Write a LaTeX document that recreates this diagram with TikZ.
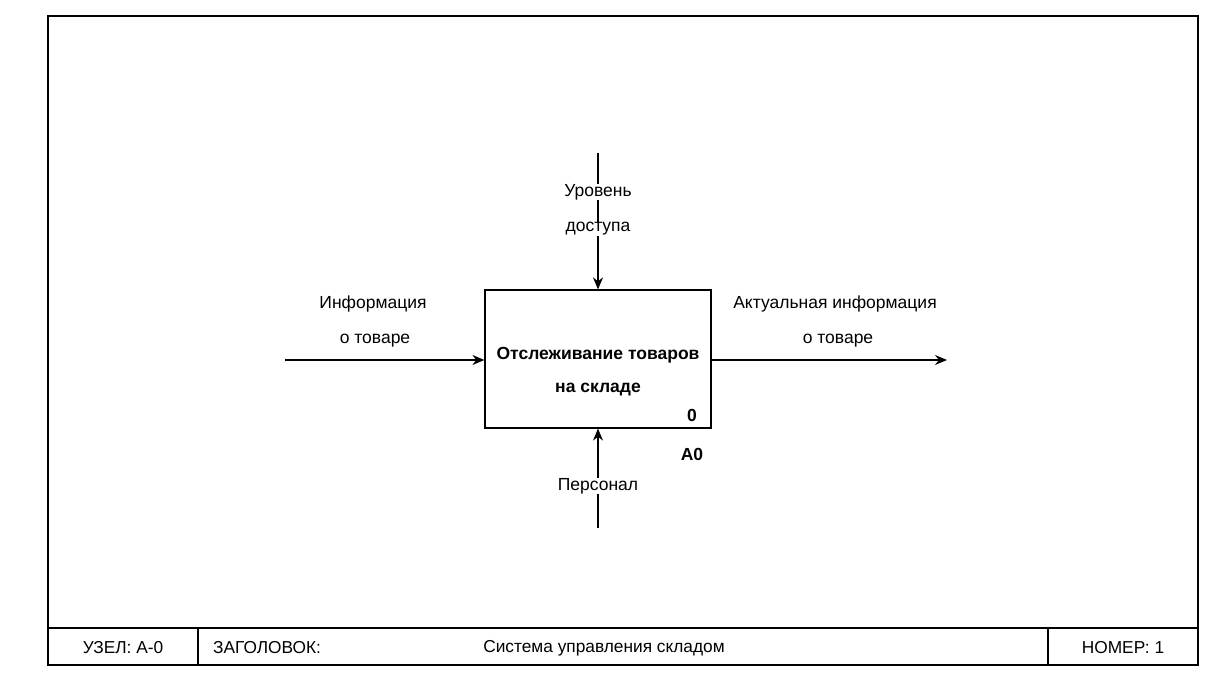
\documentclass[tikz,border=0pt]{standalone}
\usepackage{fontspec}
\setmainfont{Liberation Sans}
\usetikzlibrary{arrows.meta}
\begin{document}
\begin{tikzpicture}[x=1pt,y=-1pt,
  lbl/.style={font=\fontsize{17.5}{20}\selectfont, inner sep=0.5pt},
  blbl/.style={font=\fontsize{17.5}{20}\selectfont\bfseries, inner sep=0.5pt},
  bar/.style={font=\fontsize{17.3}{20}\selectfont, inner sep=1pt},
  arr/.style={line width=1.2pt,-{Stealth[length=12pt,width=10pt]}},
  frm/.style={line width=1.3pt}]
\useasboundingbox (0,0) rectangle (1232,692);
% frame
\draw[frm] (48,16) rectangle (1198,665);
\draw[frm] (48,628) -- (1198,628);
\draw[line width=2.2pt] (48,665) -- (1198,665);
\draw[frm] (198,628) -- (198,665);
\draw[frm] (1048,628) -- (1048,665);
\node[bar] (uzel) at (123,648) {УЗЕЛ: A-0};
\node[bar,anchor=west] (zag) at (212,648) {ЗАГОЛОВОК:};
\node[bar] (title) at (604,648) {Система управления складом};
\node[bar] (nomer) at (1123,648) {НОМЕР: 1};
% main box
\node[draw, line width=1.2pt, minimum width=226pt, minimum height=138pt, inner sep=0pt] (box) at (598,359) {};
\node[blbl] (t1) at (598,355) {Отслеживание товаров};
\node[blbl] (t2) at (598,390) {на складе};
\node[blbl] (num) at (692,415) {0};
\node[blbl] (a0) at (692,454) {A0};
% coordinates
\coordinate (ctop) at (598,153);
\coordinate (cin) at (285,360);
\coordinate (cout) at (947,360);
\coordinate (cbot) at (598,528);
% arrows
\draw[arr] (ctop) -- (box.north);
\draw[arr] (cin) -- (box.west |- cin);
\draw[arr] (box.east |- cout) -- (cout);
\draw[arr] (cbot) -- (box.south);
% labels
\node[lbl, fill=white] (c1) at (598,192) {Уровень};
\node[lbl, fill=white] (c2) at (598,229) {доступа};
\node[lbl] (i1) at (373,304) {Информация};
\node[lbl] (i2) at (375,341) {о товаре};
\node[lbl] (o1) at (835,304) {Актуальная информация};
\node[lbl] (o2) at (838,341) {о товаре};
\node[lbl, fill=white] (m1) at (598,486) {Персонал};
\end{tikzpicture}
\end{document}
